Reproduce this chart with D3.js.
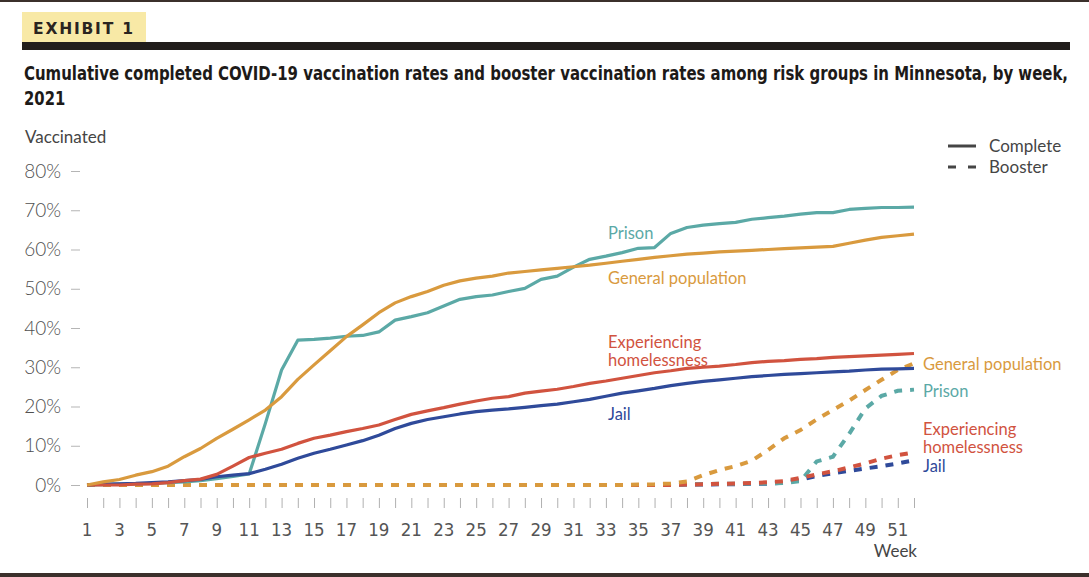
<!DOCTYPE html>
<html>
<head>
<meta charset="utf-8">
<script src="https://cdn.jsdelivr.net/npm/d3@7"></script>
<style>
  body { margin: 0; background: #fff; }
  svg { display: block; }
</style>
</head>
<body>
<svg id="chart" width="1089" height="577"></svg>
<script>
// Week numbers on the x axis
var weeks = [1, 2, 3, 4, 5, 6, 7, 8, 9, 10, 11, 12, 13, 14, 15, 16, 17, 18, 19, 20,
  21, 22, 23, 24, 25, 26, 27, 28, 29, 30, 31, 32, 33, 34, 35, 36, 37, 38, 39, 40,
  41, 42, 43, 44, 45, 46, 47, 48, 49, 50, 51, 52]
var weekLabels = [1, 3, 5, 7, 9, 11, 13, 15, 17, 19, 21, 23, 25, 27, 29, 31, 33, 35, 37, 39, 41, 43, 45, 47, 49, 51]
var yTicks = [0, 10, 20, 30, 40, 50, 60, 70, 80]

// Completed vaccination, %
var generalComplete = [0, 0.8, 1.4, 2.5, 3.4, 4.8, 7.2, 9.3, 11.9, 14.2, 16.6, 19.1, 22.5, 26.9, 30.6, 34.2,
  37.8, 40.8, 43.9, 46.4, 48.0, 49.3, 50.9, 52.0, 52.7, 53.2, 54.0, 54.4, 54.8, 55.2, 55.6, 56.0, 56.5,
  57.0, 57.5, 58.0, 58.4, 58.8, 59.1, 59.4, 59.6, 59.8, 60.0, 60.2, 60.4, 60.6, 60.8, 61.6, 62.4, 63.1, 63.5, 63.9]
var prisonComplete = [0, 0.1, 0.2, 0.3, 0.4, 0.6, 0.8, 1.1, 1.6, 2.2, 2.8, 15.7, 29.3, 36.9, 37.1, 37.4,
  37.9, 38.1, 39.0, 42.0, 42.9, 43.9, 45.6, 47.3, 48.0, 48.4, 49.3, 50.1, 52.4, 53.2, 55.5, 57.5, 58.3,
  59.2, 60.3, 60.5, 64.1, 65.6, 66.2, 66.6, 66.9, 67.7, 68.1, 68.5, 69.0, 69.4, 69.4, 70.2, 70.5, 70.7, 70.7, 70.8]
var homelessComplete = [0, 0, 0, 0.2, 0.3, 0.6, 1.1, 1.5, 2.7, 4.8, 7.0, 8.1, 9.1, 10.6, 11.9, 12.7,
  13.6, 14.4, 15.3, 16.7, 18.0, 18.9, 19.7, 20.6, 21.4, 22.1, 22.5, 23.4, 23.9, 24.4, 25.1, 25.9, 26.5,
  27.2, 27.9, 28.6, 29.1, 29.7, 30.0, 30.3, 30.7, 31.2, 31.5, 31.7, 32.0, 32.2, 32.5, 32.7, 32.9, 33.1, 33.3, 33.5]
var jailComplete = [0, 0.2, 0.3, 0.4, 0.6, 0.8, 1.1, 1.4, 2.1, 2.5, 2.9, 4.0, 5.3, 6.8, 8.1, 9.1,
  10.2, 11.3, 12.7, 14.4, 15.7, 16.7, 17.4, 18.1, 18.7, 19.1, 19.4, 19.8, 20.2, 20.6, 21.2, 21.8, 22.6,
  23.4, 24.0, 24.6, 25.3, 25.9, 26.4, 26.8, 27.2, 27.6, 27.9, 28.2, 28.4, 28.6, 28.8, 29.0, 29.3, 29.5, 29.6, 29.7]

// Booster vaccination, %
var generalBooster = [0, 0, 0, 0, 0, 0, 0, 0, 0, 0, 0, 0, 0, 0, 0, 0, 0, 0, 0, 0, 0, 0, 0, 0, 0, 0,
  0, 0, 0, 0, 0, 0, 0, 0, 0.1, 0.2, 0.4, 0.9, 2.5, 3.8, 4.8, 6.2, 8.9, 11.9, 14.0, 16.7, 19.1, 21.5,
  24.2, 26.8, 29.3, 31.0]
var prisonBooster = [0, 0, 0, 0, 0, 0, 0, 0, 0, 0, 0, 0, 0, 0, 0, 0, 0, 0, 0, 0, 0, 0, 0, 0, 0, 0,
  0, 0, 0, 0, 0, 0, 0, 0, 0, 0, 0.1, 0.2, 0.2, 0.3, 0.3, 0.4, 0.4, 0.5, 1.0, 6.0, 7.2, 13.0,
  19.5, 22.7, 24.0, 24.3]
var homelessBooster = [0, 0, 0, 0, 0, 0, 0, 0, 0, 0, 0, 0, 0, 0, 0, 0, 0, 0, 0, 0, 0, 0, 0, 0, 0, 0,
  0, 0, 0, 0, 0, 0, 0, 0, 0, 0, 0, 0.1, 0.2, 0.3, 0.4, 0.5, 0.7, 1.0, 1.8, 2.7, 3.5, 4.5,
  5.5, 6.7, 7.6, 8.3]
var jailBooster = [0, 0, 0, 0, 0, 0, 0, 0, 0, 0, 0, 0, 0, 0, 0, 0, 0, 0, 0, 0, 0, 0, 0, 0, 0, 0,
  0, 0, 0, 0, 0, 0, 0, 0, 0, 0, 0, 0.1, 0.1, 0.2, 0.2, 0.3, 0.3, 0.6, 1.4, 2.3, 3.0, 3.6,
  4.2, 4.8, 5.5, 6.3]

var teal = "#5ba9a6", orange = "#d99a3e", red = "#d1533f", blue = "#2f4a9a"
var grey = "#454545"
var labelFont = "Lato, 'Noto Sans', sans-serif"
var narrowFont = "'Liberation Sans Narrow', 'DejaVu Sans Condensed', sans-serif"

var svg = d3.select("#chart")

// Frame: top rule and bottom bar
svg.append("rect").attr("x", 0).attr("y", 0).attr("width", 1089).attr("height", 2).attr("fill", "#3b302b")
svg.append("rect").attr("x", 0).attr("y", 573).attr("width", 1089).attr("height", 4).attr("fill", "#3b302b")

// Exhibit tag
svg.append("rect").attr("x", 22).attr("y", 12).attr("width", 124).attr("height", 31).attr("fill", "#f8e9a6")
svg.append("text")
  .attr("x", 33).attr("y", 34)
  .style("font-family", "'DejaVu Sans', sans-serif")
  .style("font-weight", "bold")
  .style("font-size", "15.5px")
  .style("letter-spacing", "1.8px")
  .attr("fill", "#2a2420")
  .text("EXHIBIT 1")
svg.append("rect").attr("x", 22).attr("y", 42).attr("width", 1048).attr("height", 8).attr("fill", "#211d1b")

// Title (condensed bold, stretched a little vertically)
var title = svg.append("g")
  .style("font-family", "'DejaVu Sans Condensed', 'DejaVu Sans', sans-serif")
  .style("font-weight", "bold")
  .style("font-size", "16.5px")
  .attr("fill", "#1d1a18")
title.append("text")
  .attr("transform", "translate(24,80) scale(1,1.15)")
  .attr("textLength", 1044).attr("lengthAdjust", "spacingAndGlyphs")
  .text("Cumulative completed COVID-19 vaccination rates and booster vaccination rates among risk groups in Minnesota, by week,")
title.append("text")
  .attr("transform", "translate(24,105) scale(1,1.15)")
  .text("2021")

// Scales
var x = d3.scaleLinear().domain([1, 52]).range([87, 914])
var y = d3.scaleLinear().domain([0, 80]).range([485, 171])

// Y axis: short grey dashes, labels to the left, no domain line
var yAxis = svg.append("g")
  .attr("transform", "translate(80,0)")
  .call(d3.axisLeft(y).tickValues(yTicks).tickSize(9).tickPadding(10).tickFormat(function (d) { return d + "%" }))
yAxis.select(".domain").remove()
yAxis.selectAll("line").attr("stroke", "#b5b5b5")
yAxis.selectAll("text")
  .style("font-family", labelFont)
  .style("font-weight", "300")
  .style("font-size", "19px")
  .attr("fill", "#505050")

svg.append("text")
  .attr("x", 25).attr("y", 143)
  .style("font-family", labelFont)
  .style("font-size", "17px")
  .attr("fill", grey)
  .text("Vaccinated")

// X axis: a tick for every week, labels on odd weeks
var xAxis = svg.append("g")
  .attr("transform", "translate(0,498)")
  .call(d3.axisBottom(x).tickValues(weeks).tickSize(10).tickFormat(""))
xAxis.select(".domain").remove()
xAxis.selectAll("line").attr("stroke", "#b0b0b0")

svg.append("g")
  .selectAll("text")
  .data(weekLabels)
  .enter()
  .append("text")
  .attr("x", function (d) { return x(d) })
  .attr("y", 536)
  .attr("text-anchor", "middle")
  .style("font-family", narrowFont)
  .style("font-size", "18.5px")
  .attr("fill", "#555")
  .text(function (d) { return d })

svg.append("text")
  .attr("x", 917).attr("y", 557)
  .attr("text-anchor", "end")
  .style("font-family", labelFont)
  .style("font-size", "17px")
  .attr("fill", grey)
  .text("Week")

// Lines
var line = d3.line()
  .x(function (d, i) { return x(weeks[i]) })
  .y(function (d) { return y(d) })

var boosters = [
  { values: jailBooster, color: blue },
  { values: prisonBooster, color: teal },
  { values: homelessBooster, color: red },
  { values: generalBooster, color: orange }
]
var completes = [
  { values: prisonComplete, color: teal },
  { values: jailComplete, color: blue },
  { values: homelessComplete, color: red },
  { values: generalComplete, color: orange }
]

svg.append("g")
  .selectAll("path")
  .data(boosters)
  .enter()
  .append("path")
  .attr("d", function (d) { return line(d.values) })
  .attr("fill", "none")
  .attr("stroke", function (d) { return d.color })
  .attr("stroke-width", 4)
  .attr("stroke-dasharray", "8,8")

svg.append("g")
  .selectAll("path")
  .data(completes)
  .enter()
  .append("path")
  .attr("d", function (d) { return line(d.values) })
  .attr("fill", "none")
  .attr("stroke", function (d) { return d.color })
  .attr("stroke-width", 3.2)
  .attr("stroke-linejoin", "round")

// Direct labels, one text per line
var labels = [
  { text: "Prison", x: 608, y: 239, color: teal },
  { text: "General population", x: 608, y: 284, color: orange },
  { text: "Experiencing", x: 608, y: 348, color: red },
  { text: "homelessness", x: 608, y: 366, color: red },
  { text: "Jail", x: 608, y: 420, color: blue },
  { text: "General population", x: 923, y: 370, color: orange },
  { text: "Prison", x: 923, y: 397, color: teal },
  { text: "Experiencing", x: 923, y: 435, color: red },
  { text: "homelessness", x: 923, y: 453, color: red },
  { text: "Jail", x: 923, y: 472, color: blue }
]

svg.append("g")
  .selectAll("text")
  .data(labels)
  .enter()
  .append("text")
  .attr("x", function (d) { return d.x })
  .attr("y", function (d) { return d.y })
  .style("font-family", labelFont)
  .style("font-size", "16.5px")
  .attr("fill", function (d) { return d.color })
  .text(function (d) { return d.text })

// Legend
var legend = svg.append("g")
legend.append("line")
  .attr("x1", 948).attr("x2", 976).attr("y1", 146).attr("y2", 146)
  .attr("stroke", grey).attr("stroke-width", 3)
legend.append("line")
  .attr("x1", 948).attr("x2", 976).attr("y1", 167).attr("y2", 167)
  .attr("stroke", grey).attr("stroke-width", 3).attr("stroke-dasharray", "8,12")
legend.append("text")
  .attr("x", 989).attr("y", 152)
  .style("font-family", labelFont).style("font-size", "17px").attr("fill", grey)
  .text("Complete")
legend.append("text")
  .attr("x", 989).attr("y", 173)
  .style("font-family", labelFont).style("font-size", "17px").attr("fill", grey)
  .text("Booster")
</script>
</body>
</html>
